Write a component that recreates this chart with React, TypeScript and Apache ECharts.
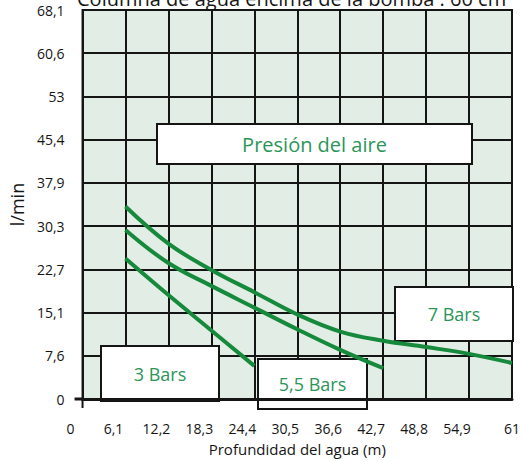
import React, { useEffect, useRef } from "react";
import * as echarts from "echarts";

const xTickLabels = ["0", "6,1", "12,2", "18,3", "24,4", "30,5", "36,6", "42,7", "48,8", "54,9", "61"];
const yTickLabels = ["0", "7,6", "15,1", "22,7", "30,3", "37,9", "45,4", "53", "60,6", "68,1"];

const depth7 = [6.1, 12.2, 18.3, 24.4, 30.5, 36.6, 42.7, 48.8, 54.9, 61];
const flow7 = [33.7, 27.2, 22.6, 18.7, 14.8, 11.8, 10.2, 9.1, 7.9, 6.3];
const depth55 = [6.1, 12.2, 18.3, 24.4, 30.5, 36.6, 42.7];
const flow55 = [29.6, 23.8, 19.8, 16.0, 12.2, 8.6, 5.4];
const depth3 = [6.1, 12.2, 18.3, 24.4];
const flow3 = [24.6, 18.2, 12.0, 5.8];

const X_MAX = 61;
const X_STEP = 6.1;
const Y_MAX = 68.1;
const Y_STEP = Y_MAX / 9;

const FONT = "'Open Sans', 'Noto Sans', sans-serif";
const GREEN = "#17893d";
const TEXT_GREEN = "#2b9558";
const INK = "#151515";

function pairs(xs: number[], ys: number[]) {
  return xs.map((x, i) => [x, ys[i]]);
}

export default function App() {
  const ref = useRef<HTMLDivElement>(null);
  useEffect(() => {
    document.body.style.margin = "0";
    const chart = echarts.init(ref.current!, null, { renderer: "svg" });
    const lineSeries = (name: string, data: number[][]) => ({
      name,
      type: "line",
      data,
      smooth: 0.4,
      showSymbol: false,
      symbol: "none",
      lineStyle: { color: GREEN, width: 4 },
      z: 3,
    });
    chart.setOption({
      animation: false,
      backgroundColor: "#ffffff",
      title: {
        text: "Columna de agua encima de la bomba : 60 cm",
        left: 77,
        top: -12,
        padding: 0,
        textStyle: { fontFamily: FONT, fontSize: 20, fontWeight: "normal", color: INK },
      },
      grid: {
        left: 80,
        right: 8,
        top: 10,
        bottom: 60,
        show: true,
        backgroundColor: "#e2eee5",
        borderColor: INK,
        borderWidth: 2,
      },
      xAxis: {
        type: "value",
        min: 0,
        max: X_MAX,
        interval: X_STEP,
        name: "Profundidad del agua (m)",
        nameLocation: "middle",
        nameGap: 42,
        nameTextStyle: { fontFamily: FONT, fontSize: 15, color: INK },
        axisLine: { show: true, lineStyle: { color: INK, width: 3 } },
        axisTick: { show: false },
        splitLine: { show: true, lineStyle: { color: INK, width: 2 } },
        axisLabel: {
          margin: 22,
          fontFamily: FONT,
          fontSize: 14,
          color: INK,
          formatter: (v: number) => {
            const i = Math.round(v / X_STEP);
            const t = xTickLabels[i] ?? "";
            return i === xTickLabels.length - 1 ? `{b|${t}}` : `{a|${t}}`;
          },
          rich: {
            a: { padding: [0, 24, 0, 0], fontFamily: FONT, fontSize: 14, color: INK },
            b: { fontFamily: FONT, fontSize: 14, color: INK },
          },
        },
      },
      yAxis: {
        type: "value",
        min: 0,
        max: Y_MAX,
        interval: Y_STEP,
        name: "l/min",
        nameLocation: "middle",
        nameRotate: 90,
        nameGap: 54,
        nameTextStyle: { fontFamily: FONT, fontSize: 18, color: INK, padding: [0, 0, 0, 0] },
        axisLine: { show: true, lineStyle: { color: INK, width: 2 } },
        axisTick: { show: false },
        splitLine: { show: true, lineStyle: { color: INK, width: 2 } },
        axisLabel: {
          margin: 18,
          fontFamily: FONT,
          fontSize: 14,
          color: INK,
          formatter: (v: number) => yTickLabels[Math.round(v / Y_STEP)] ?? "",
        },
      },
      series: [
        lineSeries("7 Bars", pairs(depth7, flow7)),
        lineSeries("5,5 Bars", pairs(depth55, flow55)),
        lineSeries("3 Bars", pairs(depth3, flow3)),
      ],
    });

    const o = chart.convertToPixel({ gridIndex: 0 }, [0, 0]) as number[];
    const box = (x: number, y: number, w: number, h: number, text: string, size: number) => ({
      type: "group",
      z: 10,
      children: [
        {
          type: "rect",
          shape: { x, y, width: w, height: h },
          style: { fill: "#ffffff", stroke: INK, lineWidth: 2 },
        },
        {
          type: "text",
          x: x + w / 2,
          y: y + h / 2,
          style: {
            text,
            fill: TEXT_GREEN,
            font: `${size}px ${FONT}`,
            textAlign: "center",
            textVerticalAlign: "middle",
          },
        },
      ],
    });
    chart.setOption({
      graphic: [
        {
          type: "line",
          z: 5,
          shape: { x1: o[0] - 8, y1: o[1], x2: o[0], y2: o[1] },
          style: { stroke: INK, lineWidth: 3 },
        },
        {
          type: "line",
          z: 5,
          shape: { x1: o[0], y1: o[1], x2: o[0], y2: o[1] + 9 },
          style: { stroke: INK, lineWidth: 2 },
        },
        box(157, 124, 315, 40, "Presión del aire", 20),
        box(101, 346, 118, 55, "3 Bars", 18),
        box(258, 359, 109, 50, "5,5 Bars", 18),
        box(395, 287, 118, 54, "7 Bars", 18),
      ],
    });
    return () => chart.dispose();
  }, []);
  return <div ref={ref} style={{ width: 523, height: 461 }} />;
}
